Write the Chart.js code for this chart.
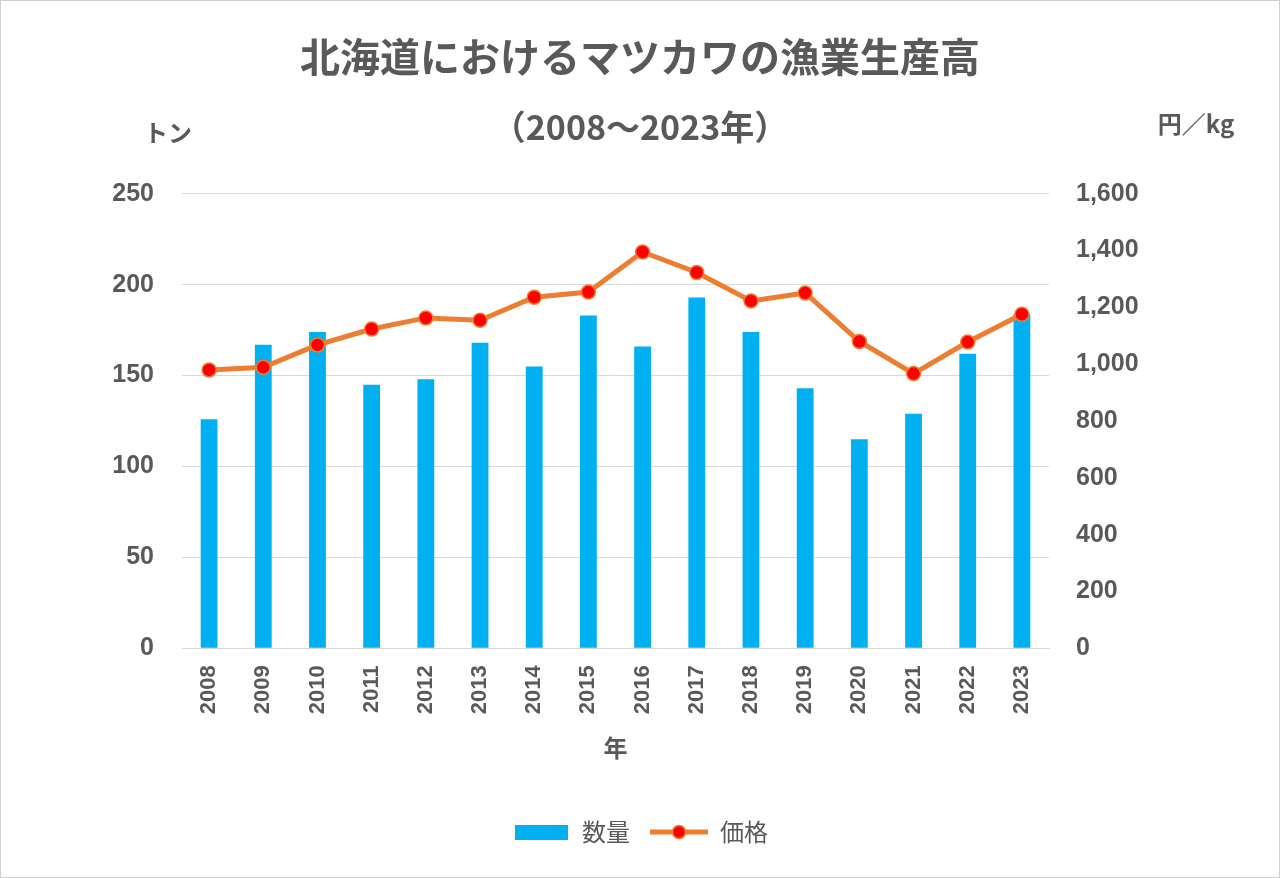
<!DOCTYPE html>
<html>
<head>
<meta charset="utf-8">
<script src="https://cdn.jsdelivr.net/npm/chart.js@4/dist/chart.umd.min.js"></script>
<style>
html,body{margin:0;padding:0;background:#fff;}
canvas{display:block;}
</style>
</head>
<body>
<canvas id="c" width="1280" height="878"></canvas>
<script>
const years = ['2008','2009','2010','2011','2012','2013','2014','2015','2016','2017','2018','2019','2020','2021','2022','2023'];
const quantity = [126,167,174,145,148,168,155,183,166,193,174,143,115,129,162,184];
const price = [980,989,1068,1124,1163,1155,1236,1254,1395,1323,1223,1251,1080,967,1078,1176];
const leftTicks = [0,50,100,150,200,250];
const rightTicks = [0,200,400,600,800,1000,1200,1400,1600];
const titleText = '北海道におけるマツカワの漁業生産高';
const subtitleText = '（2008～2023年）';
const leftUnit = 'トン';
const rightUnit = '円／kg';
const xTitle = '年';
const seriesNames = ['数量','価格'];

const TXT = '#595959';
const BLUE = '#00B0F0';
const ORANGE = '#ED7D31';
const RED = '#FF0000';
const CJK = '"Noto Sans CJK JP", "Noto Sans", sans-serif';
const NUM = '"Liberation Sans", Arial, sans-serif';

// legend images
const rectImg = document.createElement('canvas');
rectImg.width = 53; rectImg.height = 15;
(function(){const g = rectImg.getContext('2d'); g.fillStyle = BLUE; g.fillRect(0,0,53,15);})();
const lineImg = document.createElement('canvas');
lineImg.width = 58; lineImg.height = 18;
(function(){
  const g = lineImg.getContext('2d');
  g.strokeStyle = ORANGE; g.lineWidth = 5;
  g.beginPath(); g.moveTo(0,9); g.lineTo(58,9); g.stroke();
  g.beginPath(); g.arc(29,9,6.5,0,Math.PI*2); g.fillStyle = RED; g.fill();
  g.lineWidth = 1.5; g.strokeStyle = ORANGE; g.stroke();
})();

const extras = {
  id: 'extras',
  beforeDraw(chart) {
    const ctx = chart.ctx;
    ctx.save();
    ctx.fillStyle = '#fff';
    ctx.fillRect(0,0,chart.width,chart.height);
    ctx.restore();
  },
  afterDraw(chart) {
    const ctx = chart.ctx;
    ctx.save();
    ctx.fillStyle = TXT;
    ctx.font = 'bold 24px ' + CJK;
    ctx.textAlign = 'center';
    ctx.textBaseline = 'middle';
    ctx.fillText(leftUnit, 168, 133);
    ctx.fillText(rightUnit, 1196, 124);
    ctx.strokeStyle = '#d0d0d0';
    ctx.lineWidth = 1;
    ctx.strokeRect(0.5,0.5,chart.width-1,chart.height-1);
    ctx.restore();
  }
};

new Chart(document.getElementById('c'), {
  data: {
    labels: years,
    datasets: [
      {
        type: 'bar',
        label: seriesNames[0],
        data: quantity,
        backgroundColor: BLUE,
        yAxisID: 'y',
        order: 2,
        barPercentage: 0.31,
        categoryPercentage: 1.0
      },
      {
        type: 'line',
        label: seriesNames[1],
        data: price,
        borderColor: ORANGE,
        borderWidth: 5,
        pointBackgroundColor: RED,
        pointBorderColor: ORANGE,
        pointBorderWidth: 1.5,
        pointRadius: 7,
        tension: 0,
        yAxisID: 'y1',
        order: 1
      }
    ]
  },
  options: {
    responsive: false,
    animation: false,
    devicePixelRatio: 1,
    layout: { padding: { top: 0, bottom: 24, left: 0, right: 0 } },
    plugins: {
      tooltip: { enabled: false },
      title: {
        display: true,
        text: titleText,
        color: TXT,
        font: { family: CJK, size: 40, weight: 'bold' },
        padding: { top: 33, bottom: 0 }
      },
      subtitle: {
        display: true,
        text: subtitleText,
        color: TXT,
        font: { family: CJK, size: 34, weight: 'bold' },
        padding: { top: 26, bottom: 46 }
      },
      legend: {
        position: 'bottom',
        labels: {
          usePointStyle: true,
          pointStyleWidth: 58,
          padding: 20,
          color: TXT,
          font: { family: CJK, size: 24 },
          generateLabels(chart) {
            return chart.data.datasets.map((ds, i) => ({
              text: ds.label,
              fillStyle: i === 0 ? BLUE : RED,
              strokeStyle: i === 0 ? BLUE : ORANGE,
              lineWidth: 0,
              pointStyle: i === 0 ? rectImg : lineImg,
              hidden: false,
              datasetIndex: i,
              fontColor: TXT
            }));
          }
        }
      }
    },
    scales: {
      x: {
        grid: { display: false, drawTicks: false },
        border: { display: true, color: '#d9d9d9' },
        ticks: {
          color: TXT,
          font: { family: NUM, size: 22, weight: 'bold' },
          minRotation: 90,
          maxRotation: 90,
          padding: 17
        },
        title: {
          display: true,
          text: xTitle,
          color: TXT,
          font: { family: CJK, size: 24, weight: 'bold' },
          padding: { top: 2, bottom: 38 }
        }
      },
      y: {
        position: 'left',
        min: 0, max: 250,
        afterBuildTicks(scale) { scale.ticks = leftTicks.map(v => ({ value: v })); },
        afterFit(scale) { scale.width = 182; },
        grid: { color: '#d9d9d9', lineWidth: 1, drawTicks: false },
        border: { display: false },
        ticks: {
          color: TXT,
          font: { family: NUM, size: 25, weight: 'bold' },
          padding: 28
        }
      },
      y1: {
        position: 'right',
        min: 0, max: 1600,
        afterBuildTicks(scale) { scale.ticks = rightTicks.map(v => ({ value: v })); },
        afterFit(scale) { scale.width = 231; },
        grid: { display: false, drawTicks: false },
        border: { display: false },
        ticks: {
          color: TXT,
          font: { family: NUM, size: 25, weight: 'bold' },
          padding: 27,
          callback: v => v.toLocaleString('en-US')
        }
      }
    }
  },
  plugins: [extras]
});
</script>
</body>
</html>
